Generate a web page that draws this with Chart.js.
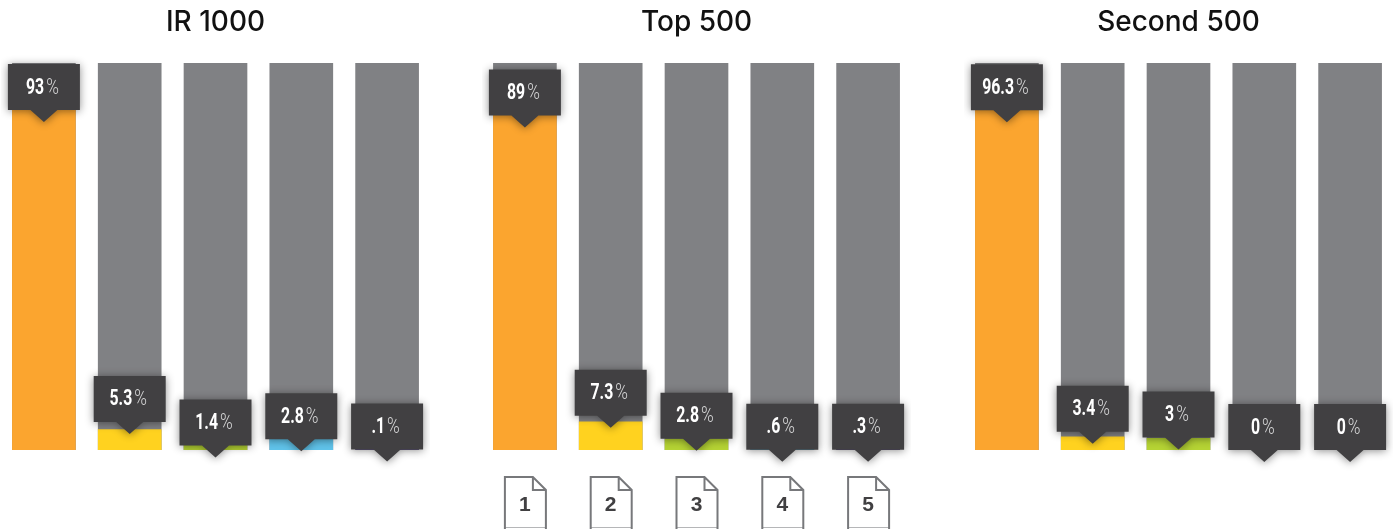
<!DOCTYPE html>
<html>
<head>
<meta charset="utf-8">
<title>Position share</title>
<script src="https://cdn.jsdelivr.net/npm/chart.js@4"></script>
<style>
    html, body { margin: 0; padding: 0; background: #fff; }
    body { position: relative; width: 1395px; height: 529px; overflow: hidden; }
    canvas { position: absolute; top: 0; }
</style>
</head>
<body>
<canvas id="irChart" width="429" height="529" style="left:1px"></canvas>
<canvas id="topChart" width="429" height="529" style="left:482px"></canvas>
<canvas id="secondChart" width="429" height="529" style="left:964px"></canvas>
<script>
const categories = ['1', '2', '3', '4', '5'];
const trackValues = [100, 100, 100, 100, 100];
const irValues = [93, 5.3, 1.4, 2.8, 0.1];
const topValues = [89, 7.3, 2.8, 0.6, 0.3];
const secondValues = [96.3, 3.4, 3, 0, 0];

const irLabels = ['93', '5.3', '1.4', '2.8', '.1'];
const topLabels = ['89', '7.3', '2.8', '.6', '.3'];
const secondLabels = ['96.3', '3.4', '3', '0', '0'];

const barColors = ['#FBA52F', '#FFD21F', '#B5D334', '#60C3EA', '#5B4A8F'];
const trackColor = '#808184';
const tagColor = '#414042';

// how far each tag's pointer hangs below the top of its bar, in px
const irTagDrop = [32, 4.5, 13, 12, 12];
const topTagDrop = [22, 6, 11.5, 14, 13];
const secondTagDrop = [45, 7, 11, 12, 12];

const TAG_W = 72;
const TAG_H = 46;
const POINTER_W = 27;
const POINTER_H = 12;
const NUM_SQUEEZE = 0.72;
const PCT_SQUEEZE = 0.78;

// dark flag with a pointer, carrying the value of the bar
const valueTags = {
    id: 'valueTags',
    afterDatasetsDraw(chart, args, opts) {
        const ctx = chart.ctx;
        const meta = chart.getDatasetMeta(0);
        meta.data.forEach((bar, i) => {
            const tip = bar.y + opts.drop[i];
            const top = tip - POINTER_H - TAG_H;
            const left = bar.x - TAG_W / 2;

            ctx.save();
            ctx.shadowColor = 'rgba(0, 0, 0, 0.45)';
            ctx.shadowBlur = 8;
            ctx.shadowOffsetY = 1;
            ctx.fillStyle = tagColor;
            ctx.beginPath();
            ctx.moveTo(left, top);
            ctx.lineTo(left + TAG_W, top);
            ctx.lineTo(left + TAG_W, top + TAG_H);
            ctx.lineTo(bar.x + POINTER_W / 2, top + TAG_H);
            ctx.lineTo(bar.x, tip);
            ctx.lineTo(bar.x - POINTER_W / 2, top + TAG_H);
            ctx.lineTo(left, top + TAG_H);
            ctx.closePath();
            ctx.fill();
            ctx.restore();

            // number in bold, percent sign thin and a bit greyer, both squeezed narrow
            const numFont = 'bold 22px Roboto, sans-serif';
            const pctFont = '300 22px Roboto, sans-serif';
            ctx.save();
            ctx.textBaseline = 'middle';
            ctx.textAlign = 'left';
            ctx.font = numFont;
            const numW = ctx.measureText(opts.labels[i]).width * NUM_SQUEEZE;
            ctx.font = pctFont;
            const pctW = ctx.measureText('%').width * PCT_SQUEEZE;
            const startX = bar.x - (numW + pctW + 2) / 2 - 1.5;
            const textY = top + TAG_H / 2 + 1;

            ctx.save();
            ctx.translate(startX, textY);
            ctx.scale(NUM_SQUEEZE, 1);
            ctx.font = numFont;
            ctx.fillStyle = '#ffffff';
            ctx.fillText(opts.labels[i], 0, 0);
            ctx.restore();

            ctx.translate(startX + numW + 2, textY);
            ctx.scale(PCT_SQUEEZE, 1);
            ctx.font = pctFont;
            ctx.fillStyle = '#d8d8d9';
            ctx.fillText('%', 0, 0);
            ctx.restore();
        });
    }
};

// page icons under the middle group, numbered from the categories
const pageIcons = {
    id: 'pageIcons',
    afterDraw(chart, args, opts) {
        if (!opts.show) return;
        const ctx = chart.ctx;
        const xScale = chart.scales.x;
        categories.forEach((name, i) => {
            const cx = xScale.getPixelForValue(i);
            const l = cx - 20;
            const r = cx + 21;
            const t = 477;
            const b = 528;
            const fold = 13;

            ctx.save();
            ctx.strokeStyle = '#B5B6B8';
            ctx.lineWidth = 1;
            ctx.beginPath();
            ctx.moveTo(l, b - 0.5);
            ctx.lineTo(r, b - 0.5);
            ctx.stroke();

            ctx.strokeStyle = '#77787B';
            ctx.lineWidth = 2;
            ctx.beginPath();
            ctx.moveTo(l, b + 4);
            ctx.lineTo(l, t);
            ctx.lineTo(r - fold, t);
            ctx.lineTo(r, t + fold);
            ctx.lineTo(r, b + 4);
            ctx.moveTo(r - fold, t);
            ctx.lineTo(r - fold, t + fold);
            ctx.lineTo(r, t + fold);
            ctx.stroke();

            ctx.fillStyle = '#414042';
            ctx.font = 'bold 21px "Liberation Sans", Arial, sans-serif';
            ctx.textAlign = 'center';
            ctx.textBaseline = 'middle';
            ctx.fillText(name, cx, 505);
            ctx.restore();
        });
    }
};

function buildPanel(id, title, values, labels, drop, showPages) {
    new Chart(document.getElementById(id), {
        type: 'bar',
        data: {
            labels: categories,
            datasets: [
                {
                    label: title,
                    data: values,
                    backgroundColor: barColors,
                    borderWidth: 0,
                    barThickness: 63
                },
                {
                    label: 'Remainder',
                    data: trackValues,
                    backgroundColor: trackColor,
                    borderWidth: 0,
                    barThickness: 63
                }
            ]
        },
        plugins: [valueTags, pageIcons],
        options: {
            responsive: false,
            animation: false,
            events: [],
            layout: { padding: { top: 0, bottom: 79, left: 0, right: 0 } },
            datasets: { bar: { grouped: false } },
            scales: {
                x: { display: false },
                y: { display: false, min: 0, max: 100 }
            },
            plugins: {
                legend: { display: false },
                tooltip: { enabled: false },
                title: {
                    display: true,
                    text: title,
                    color: '#111111',
                    font: { family: 'Inter, "Open Sans", sans-serif', size: 28, weight: '500', lineHeight: 1.2 },
                    padding: { top: 6, bottom: 23.4 }
                },
                valueTags: { labels: labels, drop: drop },
                pageIcons: { show: showPages }
            }
        }
    });
}

buildPanel('irChart', 'IR 1000', irValues, irLabels, irTagDrop, false);
buildPanel('topChart', 'Top 500', topValues, topLabels, topTagDrop, true);
buildPanel('secondChart', 'Second 500', secondValues, secondLabels, secondTagDrop, false);
</script>
</body>
</html>
